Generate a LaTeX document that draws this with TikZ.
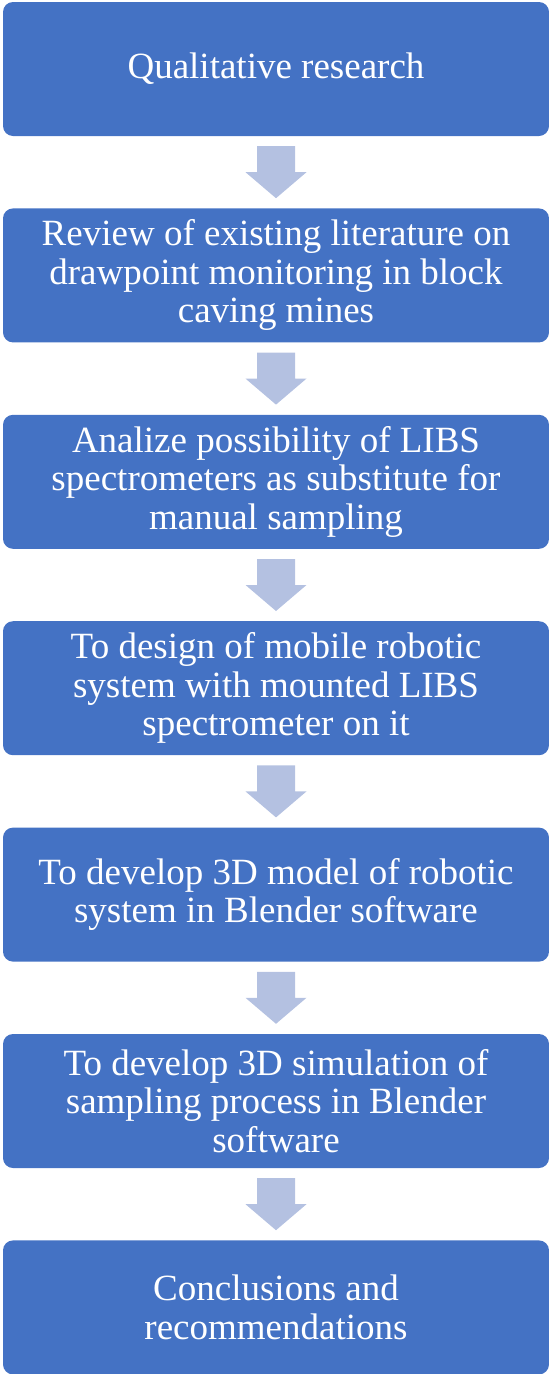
\documentclass[tikz,border=0pt]{standalone}
\usepackage{fontspec}
\setmainfont{Liberation Serif}
\usetikzlibrary{positioning,calc}
\definecolor{boxblue}{HTML}{4472C4}
\definecolor{arrowblue}{HTML}{B4C1E1}
\tikzset{
  stage/.style={fill=boxblue, rounded corners=10pt, minimum width=546pt,
    minimum height=134pt, inner sep=0pt, text=white, align=center,
    font=\fontsize{37}{38.5}\selectfont},
}
\begin{document}
\begin{tikzpicture}[x=1pt,y=1pt,node distance=72pt]
        \useasboundingbox (0,0) rectangle (549,-1374);
        \node[stage] (s1) at (276,-69) {Qualitative research};
        \node[stage,below=of s1] (s2) {Review of existing literature on\\drawpoint monitoring in block\\caving mines};
        \node[stage,below=of s2] (s3) {Analize possibility of LIBS\\spectrometers as substitute for\\manual sampling};
        \node[stage,below=of s3] (s4) {To design of mobile robotic\\system with mounted LIBS\\spectrometer on it};
        \node[stage,below=of s4] (s5) {To develop 3D model of robotic\\system in Blender software};
        \node[stage,below=of s5] (s6) {To develop 3D simulation of\\sampling process in Blender\\software};
        \node[stage,below=of s6] (s7) {Conclusions and\\recommendations};
        % block arrows between the stages
        \foreach \a/\b in {s1/s2,s2/s3,s3/s4,s4/s5,s5/s6,s6/s7}
          \fill[arrowblue] ($(\a.south)+(-19,-10)$) -- ($(\a.south)+(19,-10)$)
            -- ($(\a.south)+(19,-36)$) -- ($(\a.south)+(30.5,-36)$)
            -- ($(\b.north)+(0,10)$)
            -- ($(\a.south)+(-30.5,-36)$) -- ($(\a.south)+(-19,-36)$) -- cycle;
\end{tikzpicture}
\end{document}
